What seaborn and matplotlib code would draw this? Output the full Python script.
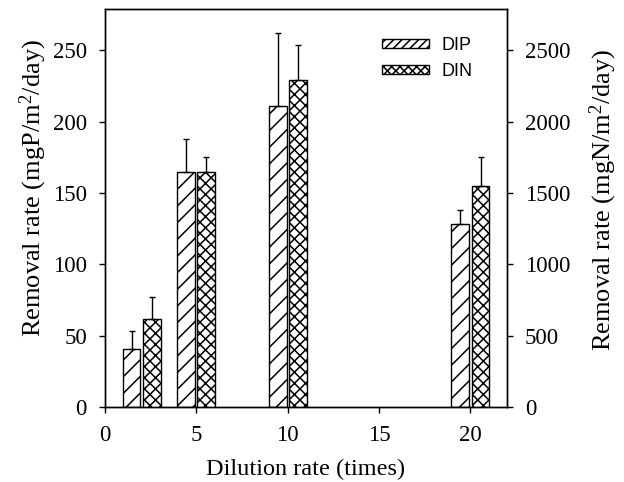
import numpy as np
import pandas as pd
import matplotlib
matplotlib.use("Agg")
import matplotlib.pyplot as plt
import seaborn as sns
from matplotlib.patches import Patch

# ---- data ----
dilution = [2, 5, 10, 20]
dip_mean = [41, 165, 211, 128]        # mgP/m2/day (left axis)
dip_err = [12, 23, 51, 10]
din_mean = [620, 1650, 2290, 1550]    # mgN/m2/day (right axis)
din_err = [150, 105, 250, 200]
x_ticks = [0, 5, 10, 15, 20]
left_ticks = [0, 50, 100, 150, 200, 250]
right_ticks = [0, 500, 1000, 1500, 2000, 2500]

sns.set_theme(style="ticks")
plt.rcParams["font.family"] = ["Liberation Serif", "DejaVu Serif"]
plt.rcParams["mathtext.fontset"] = "custom"
plt.rcParams["mathtext.rm"] = "Liberation Serif"
plt.rcParams["mathtext.it"] = "Liberation Serif:italic"
plt.rcParams["hatch.linewidth"] = 1.1
plt.rcParams["hatch.color"] = "black"
plt.rcParams["text.color"] = "black"
plt.rcParams["axes.labelcolor"] = "black"
plt.rcParams["xtick.color"] = "black"
plt.rcParams["ytick.color"] = "black"

fig = plt.figure(figsize=(6.24, 4.82), dpi=100)
ax = fig.add_axes([0.1683, 0.1556, 0.6442, 0.8257])
ax2 = ax.twinx()

bar_w = 0.98
offset = 0.55
dx = np.array(dilution, dtype=float)
span = np.min(np.diff(dx))
rel_w = bar_w / span

df_p = pd.DataFrame({"x": dx - offset, "y": dip_mean})
df_n = pd.DataFrame({"x": dx + offset, "y": din_mean})

sns.barplot(data=df_p, x="x", y="y", native_scale=True, width=rel_w,
            color="white", edgecolor="black", linewidth=1.0, hatch="//",
            errorbar=None, ax=ax, saturation=1)
sns.barplot(data=df_n, x="x", y="y", native_scale=True, width=rel_w,
            color="white", edgecolor="black", linewidth=1.0, hatch="xxx",
            errorbar=None, ax=ax2, saturation=1)

ax.errorbar(df_p["x"], dip_mean, yerr=[np.zeros(len(dip_err)), dip_err],
            fmt="none", ecolor="black", elinewidth=1.0, capsize=2.5, capthick=1.0)
ax2.errorbar(df_n["x"], din_mean, yerr=[np.zeros(len(din_err)), din_err],
             fmt="none", ecolor="black", elinewidth=1.0, capsize=2.5, capthick=1.0)

ax.set_xlim(0, 22.0)
ax.set_ylim(0, 279)
ax2.set_ylim(0, 2790)
ax.set_xticks(x_ticks)
ax.set_xticklabels([str(t) for t in x_ticks])
ax.set_yticks(left_ticks)
ax.set_yticklabels([str(t) for t in left_ticks])
ax2.set_yticks(right_ticks)
ax2.set_yticklabels([str(t) for t in right_ticks])

fs = 16.5
ax.set_xlabel("Dilution rate (times)", fontsize=17.5, labelpad=9)
ax.set_ylabel("Removal rate (mgP/m$^2$/day)", fontsize=19, labelpad=2.5)
ax2.set_ylabel("Removal rate (mgN/m$^2$/day)", fontsize=19, labelpad=12)
ax.yaxis.label.set_y(0.55)
ax2.yaxis.label.set_y(0.52)

for a in (ax, ax2):
    a.tick_params(direction="out", length=4, width=1, labelsize=fs, colors="black", pad=9)
    for s in a.spines.values():
        s.set_visible(True)
        s.set_color("black")
        s.set_linewidth(1.0)
ax2.tick_params(axis="y", right=True, labelright=True)

handles = [Patch(facecolor="white", edgecolor="black", hatch="////", label="DIP"),
           Patch(facecolor="white", edgecolor="black", hatch="xxxx", label="DIN")]
leg = ax2.legend(handles=handles, loc="upper left", bbox_to_anchor=(0.69, 0.93),
                 frameon=False, prop={"family": "Liberation Sans", "size": 13},
                 handlelength=2.6, handleheight=0.35, labelspacing=0.5,
                 handletextpad=0.67, borderpad=0, borderaxespad=0)

fig.savefig("out.png", dpi=100)
